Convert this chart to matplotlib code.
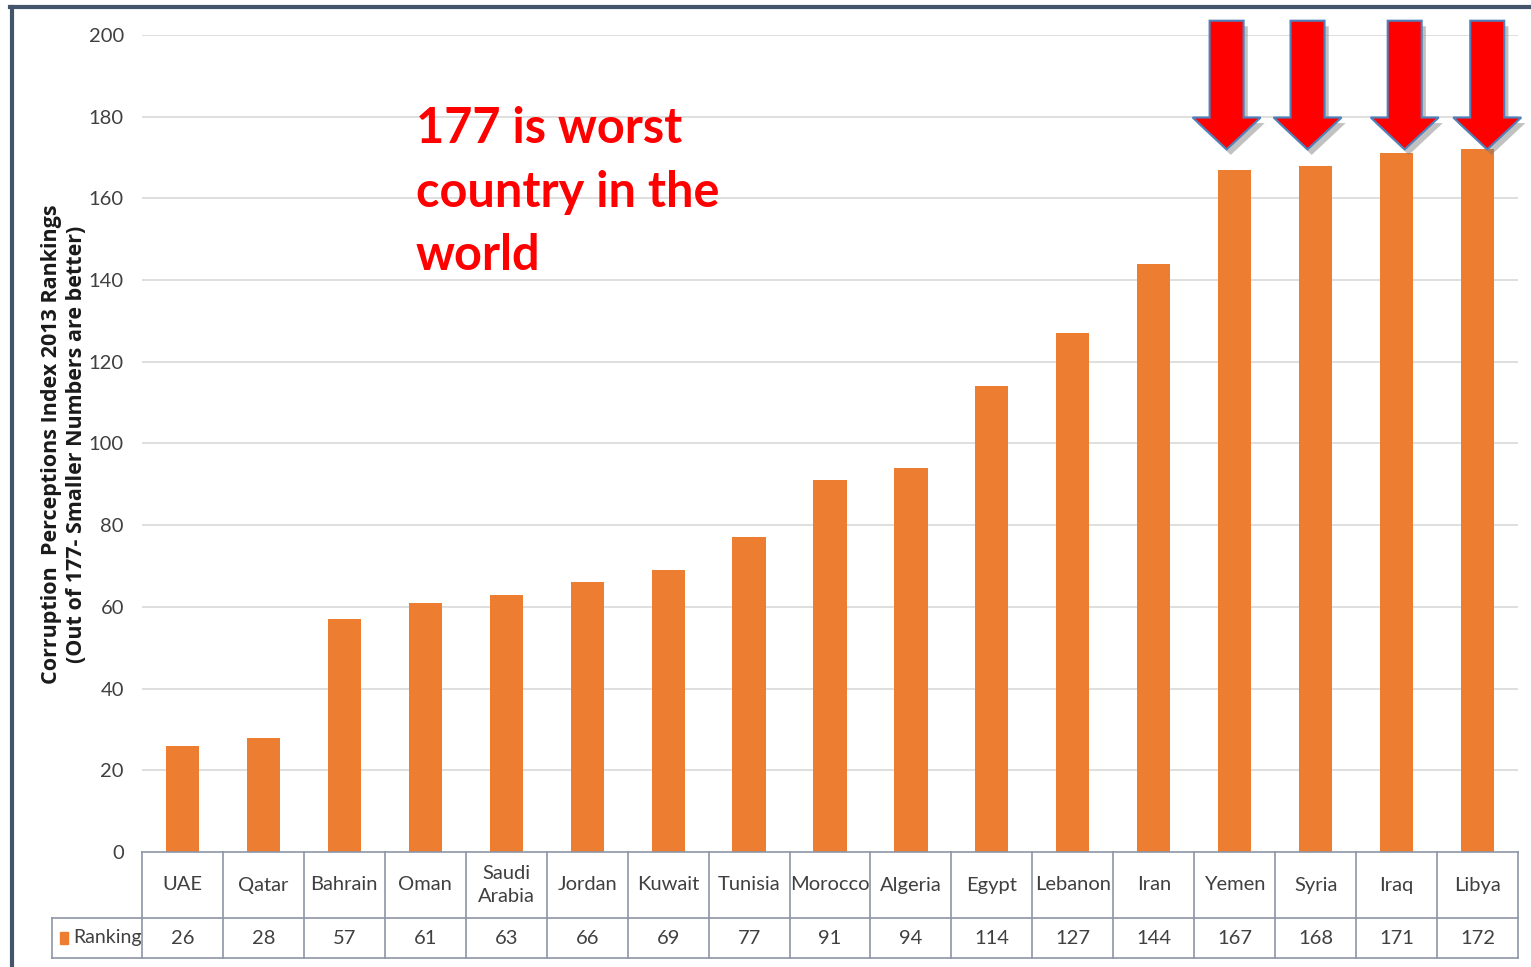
import matplotlib.pyplot as plt
import matplotlib.patheffects as pe
from matplotlib.lines import Line2D
from matplotlib.patches import Rectangle, FancyArrow
import numpy as np

countries = ['UAE', 'Qatar', 'Bahrain', 'Oman', 'Saudi\nArabia', 'Jordan', 'Kuwait',
             'Tunisia', 'Morocco', 'Algeria', 'Egypt', 'Lebanon', 'Iran', 'Yemen',
             'Syria', 'Iraq', 'Libya']
ranking = [26, 28, 57, 61, 63, 66, 69, 77, 91, 94, 114, 127, 144, 167, 168, 171, 172]
yticks = [0, 20, 40, 60, 80, 100, 120, 140, 160, 180, 200]
arrow_idx = [13, 14, 15, 16]

orange = '#ED7D31'
txt = '#404040'
grid = '#D9D9D9'
tline = '#8C96A6'
narrow = ['Lato', 'DejaVu Sans']

W, H = 1531, 967
fig = plt.figure(figsize=(W / 100, H / 100), dpi=100)
ax = fig.add_axes([142 / W, 1 - 852 / H, (1518 - 142) / W, (852 - 35) / H])

x = np.arange(len(countries))
ax.bar(x, ranking, width=0.41, color=orange, zorder=2)
ax.set_xlim(-0.5, len(countries) - 0.5)
ax.set_ylim(0, 200)
ax.set_yticks(yticks)
ax.set_yticklabels([str(v) for v in yticks], family=narrow, fontsize=14.5, color=txt)
ax.tick_params(axis='y', length=0, pad=13)
ax.set_xticks([])
for s in ax.spines.values():
    s.set_visible(False)
for v in yticks[1:]:
    ax.axhline(v, color=grid, lw=1.2, zorder=0)

# table under the bars
tr = ax.get_xaxis_transform()
px = 817.0
r1 = -(918 - 852) / px
r2 = -(958 - 852) / px
left = (52 - 142) / ((1518 - 142) / 17) - 0.5
n = len(countries)

def seg(xs, ys):
    ax.add_line(Line2D(xs, ys, transform=tr, color=tline, lw=1.2, clip_on=False))

seg([-0.5, n - 0.5], [0, 0])
seg([left, n - 0.5], [r1, r1])
seg([left, n - 0.5], [r2, r2])
seg([left, left], [r1, r2])
for i in range(n + 1):
    seg([i - 0.5, i - 0.5], [0, r2])
for i, (c, v) in enumerate(zip(countries, ranking)):
    ax.text(i, r1 / 2, c, transform=tr, ha='center', va='center', family=narrow,
            fontsize=14.5, color=txt, linespacing=1.45, clip_on=False)
    ax.text(i, (r1 + r2) / 2, str(v), transform=tr, ha='center', va='center',
            family=narrow, fontsize=14.5, color=txt, clip_on=False)
ax.add_patch(Rectangle((left + 0.1, (r1 + r2) / 2 - 0.007), 0.1, 0.014, transform=tr,
                       color=orange, clip_on=False))
ax.text(left + 0.26, (r1 + r2) / 2, 'Ranking', transform=tr, ha='left', va='center',
        family=narrow, fontsize=14, color=txt, clip_on=False)

# arrows pointing at the worst four
offs = [-0.1, -0.1, 0.1, 0.12]
for k, i in enumerate(arrow_idx):
    ar = FancyArrow(i + offs[k], 203.5, 0, -31.5, width=0.42,
                    head_width=0.84, head_length=7.8, length_includes_head=True,
                    facecolor='#FF0000', edgecolor='#4F81BD', lw=1.5, clip_on=False,
                    zorder=5,
                    path_effects=[pe.SimplePatchShadow(offset=(3, -4), shadow_rgbFace='#777777', alpha=0.45),
                                  pe.Normal()])
    ax.add_patch(ar)

ax.text(0.199, 0.913, '177 is worst\ncountry in the\nworld', transform=ax.transAxes,
        ha='left', va='top', family=['Lato', 'DejaVu Sans'], fontweight='bold',
        fontsize=35, color='#FF0000', linespacing=1.5)

fig.text(64 / W, 1 - 444 / H,
         'Corruption  Perceptions Index 2013 Rankings\n(Out of 177- Smaller Numbers are better)',
         rotation=90, ha='center', va='center', family=['Open Sans', 'DejaVu Sans'],
         fontweight='bold', fontsize=15.5, color='#1a1a1a', linespacing=1.25)

# frame border
fig.add_artist(Line2D([11.5 / W, 11.5 / W], [0, 1 - 7 / H], transform=fig.transFigure,
                      color='#44546A', lw=3))
fig.add_artist(Line2D([10 / W, 1], [1 - 7 / H, 1 - 7 / H], transform=fig.transFigure,
                      color='#44546A', lw=3))

fig.savefig('out.png', dpi=100)
